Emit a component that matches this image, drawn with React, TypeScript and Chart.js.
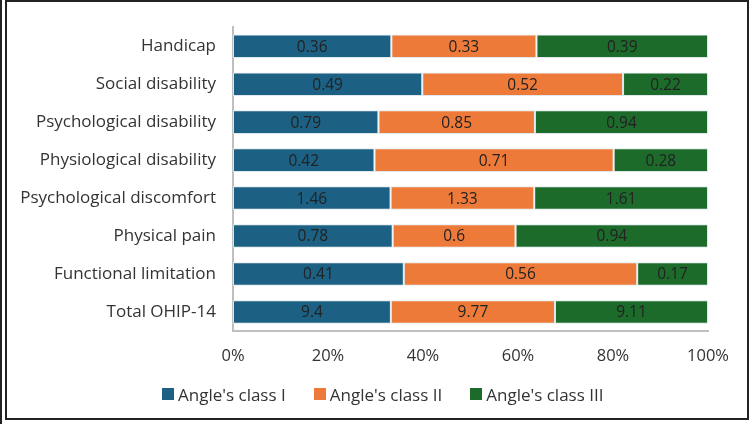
import React, { useEffect, useRef } from "react";
import { Chart, registerables } from "chart.js";

Chart.register(...registerables);

const categories = [
  "Handicap",
  "Social disability",
  "Psychological disability",
  "Physiological disability",
  "Psychological discomfort",
  "Physical pain",
  "Functional limitation",
  "Total OHIP-14",
];
const seriesNames = ["Angle's class I", "Angle's class II", "Angle's class III"];
const classI = [0.36, 0.49, 0.79, 0.42, 1.46, 0.78, 0.41, 9.4];
const classII = [0.33, 0.52, 0.85, 0.71, 1.33, 0.6, 0.56, 9.77];
const classIII = [0.39, 0.22, 0.94, 0.28, 1.61, 0.94, 0.17, 9.11];
const xTicks = [0, 20, 40, 60, 80, 100];
const colors = ["#1c6083", "#ee7a39", "#1d6b2b"];

const FONT = "'Open Sans', 'Noto Sans', sans-serif";

export default function App() {
  const ref = useRef<HTMLCanvasElement | null>(null);

  useEffect(() => {
    document.body.style.margin = "0";
    const raw = [classI, classII, classIII];
    const totals = categories.map((_, i) => classI[i] + classII[i] + classIII[i]);
    const pct = raw.map((s) => s.map((v, i) => (v / totals[i]) * 100));

    const labelPlugin = {
      id: "segLabels",
      afterDatasetsDraw(chart: any) {
        const ctx = chart.ctx;
        ctx.save();
        ctx.font = `15.5px ${FONT}`;
        ctx.fillStyle = "#222222";
        ctx.textAlign = "center";
        ctx.textBaseline = "middle";
        chart.data.datasets.forEach((ds: any, di: number) => {
          const meta = chart.getDatasetMeta(di);
          meta.data.forEach((bar: any, i: number) => {
            const x = (bar.x + bar.base) / 2;
            ctx.fillText(String(raw[di][i]), x, bar.y + 1);
          });
        });
        ctx.restore();
      },
    };

    const chart = new Chart(ref.current!, {
      type: "bar",
      data: {
        labels: categories,
        datasets: pct.map((d, i) => ({
          label: seriesNames[i],
          data: d,
          backgroundColor: colors[i],
          borderColor: "rgba(220,230,235,0.9)",
          borderWidth: 1,
          borderSkipped: false,
          barPercentage: 0.62,
          categoryPercentage: 1,
        })),
      },
      options: {
        indexAxis: "y",
        responsive: false,
        animation: false,
        layout: { padding: { top: 20, right: 42, left: 0, bottom: 0 } },
        plugins: {
          legend: { display: false },
          tooltip: { enabled: false },
        },
        scales: {
          x: {
            stacked: true,
            min: 0,
            max: 100,
            afterBuildTicks(scale: any) {
              scale.ticks = xTicks.map((v) => ({ value: v }));
            },
            afterFit(scale: any) {
              scale.height = 93;
            },
            grid: { display: false, drawTicks: false },
            border: { display: true, color: "#bfbfbf", width: 2 },
            ticks: {
              padding: 15,
              color: "#333333",
              font: { family: FONT, size: 16.5 },
              callback: (v: any) => `${v}%`,
            },
          },
          y: {
            stacked: true,
            afterFit(scale: any) {
              scale.width = 233;
            },
            grid: { display: false, drawTicks: false },
            border: { display: true, color: "#bfbfbf", width: 2 },
            ticks: {
              padding: 17,
              color: "#333333",
              font: { family: FONT, size: 17 },
            },
          },
        },
      },
      plugins: [labelPlugin],
    });
    return () => chart.destroy();
  }, []);

  const legendItem = (i: number) => (
    <div key={i} style={{ display: "flex", alignItems: "center", marginRight: i < 2 ? 28 : 0 }}>
      <span style={{ width: 12, height: 12, background: colors[i], display: "inline-block", marginRight: 4 }} />
      <span>{seriesNames[i]}</span>
    </div>
  );

  return (
    <div style={{ position: "absolute", left: 0, top: 0, width: 750, height: 424, background: "#fff" }}>
      <canvas ref={ref} width={750} height={424} style={{ position: "absolute", left: 0, top: 0 }} />
      <div
        style={{
          position: "absolute",
          left: 162,
          top: 382,
          height: 24,
          display: "flex",
          alignItems: "center",
          fontFamily: FONT,
          fontSize: 17,
          color: "#333333",
          whiteSpace: "nowrap",
        }}
      >
        {[0, 1, 2].map(legendItem)}
      </div>
      <div style={{ position: "absolute", left: 0, top: 0, width: 2, height: 424, background: "#222" }} />
      <div
        style={{
          position: "absolute",
          left: 5,
          top: 0,
          width: 744,
          height: 420,
          border: "2px solid #222",
          boxSizing: "border-box",
          pointerEvents: "none",
        }}
      />
    </div>
  );
}
